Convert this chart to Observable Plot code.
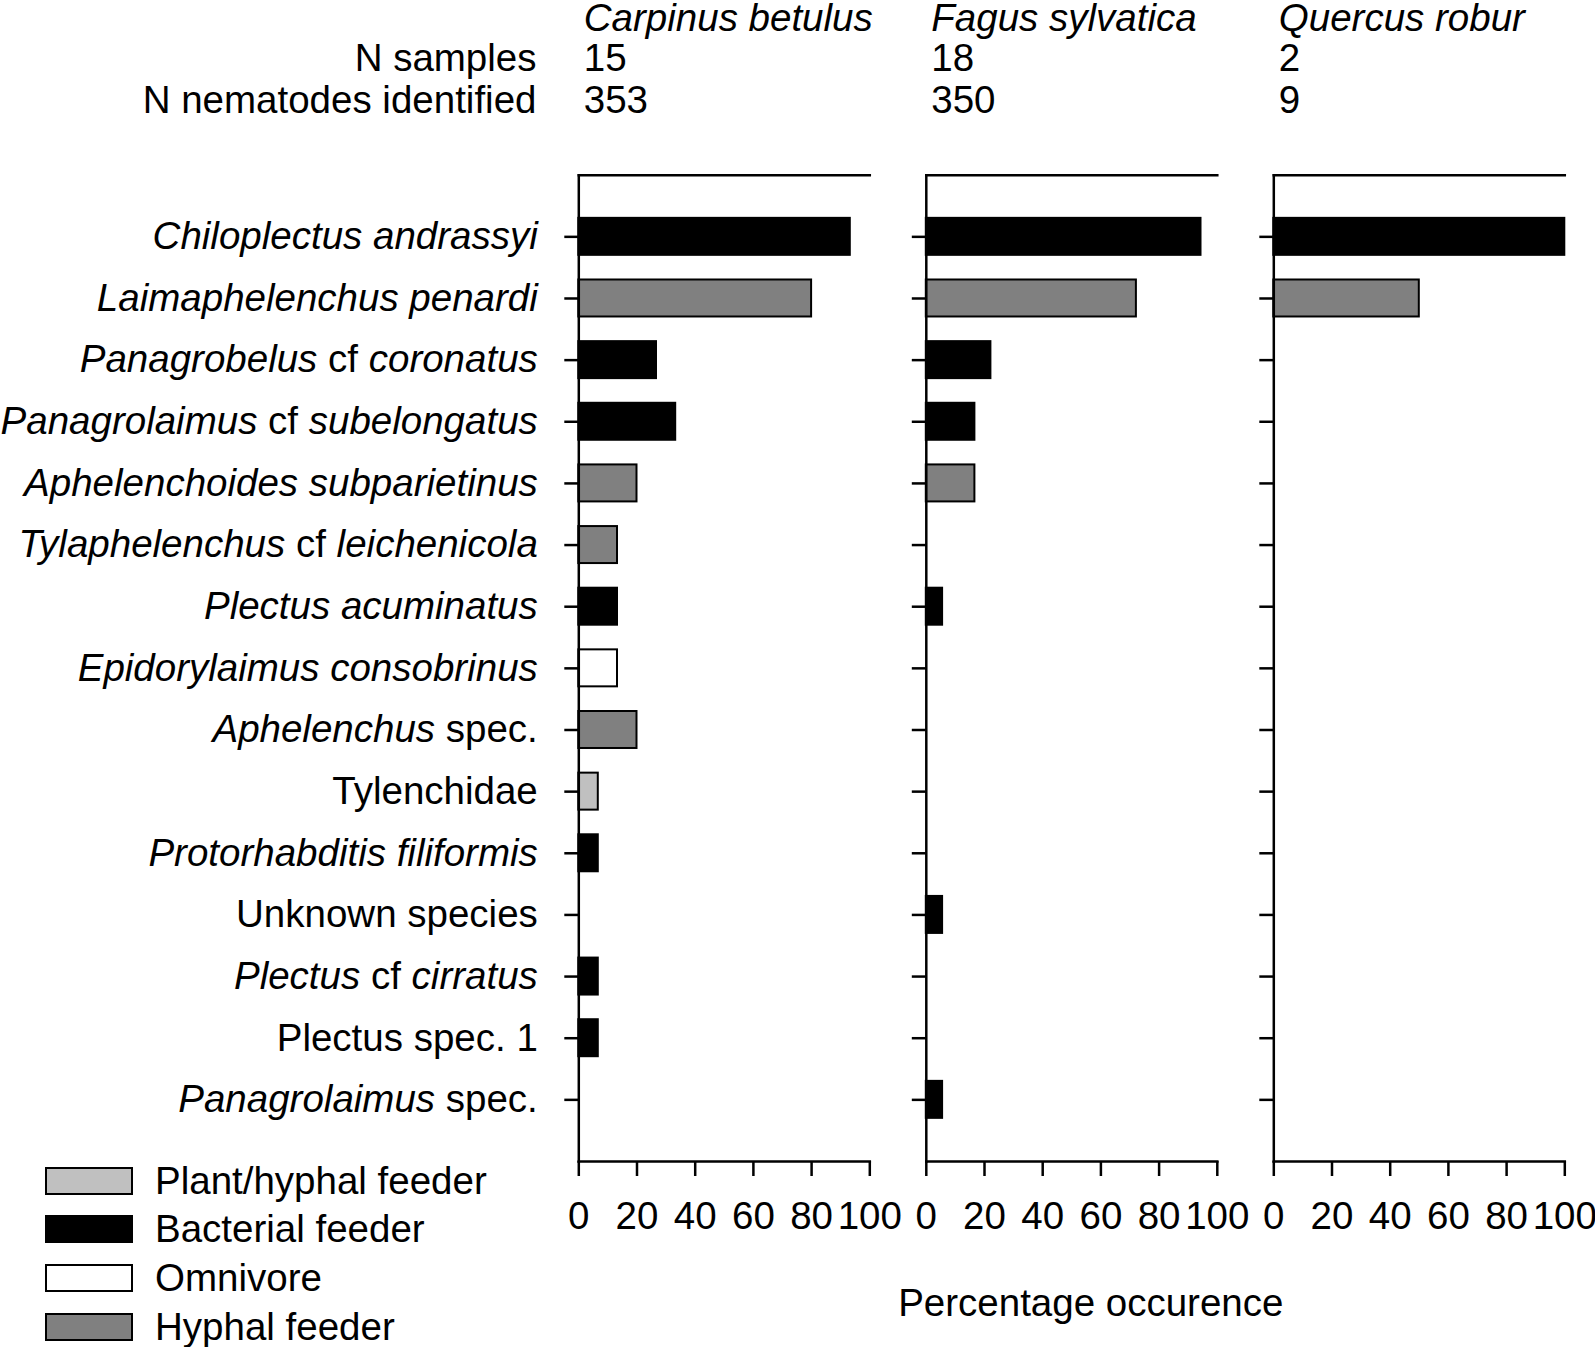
<!DOCTYPE html>
<html>
<head>
<meta charset="utf-8">
<script src="https://cdn.jsdelivr.net/npm/d3@7"></script>
<script src="https://cdn.jsdelivr.net/npm/@observablehq/plot@0.6"></script>
<style>
  html, body { margin: 0; padding: 0; background: #fff; }
  #root { position: relative; width: 1595px; height: 1347px; font-family: "Liberation Sans", Arial, sans-serif; color: #000; }
  #chart { position: absolute; left: 0; top: 0; }
  .legend { position: absolute; left: 45px; top: 1166.5px; font-size: 38.5px; }
  .lrow { display: flex; align-items: center; height: 28px; margin-bottom: 20.9px; }
  .sw { display: inline-block; box-sizing: border-box; width: 88px; height: 28px; border: 2px solid #000; }
  .lt { margin-left: 22px; line-height: 38px; white-space: nowrap; }
</style>
</head>
<body>
<div id="root"><div id="chart"></div></div>
<script>
// ---- data ----
const trees = ["Carpinus betulus", "Fagus sylvatica", "Quercus robur"];
const nSamples = [15, 18, 2];
const nNematodes = [353, 350, 9];
const rowLabels = ["N samples", "N nematodes identified"];

// species label segments: "i" = italic, "r" = roman
const speciesParts = [
  [["Chiloplectus andrassyi", "i"]],
  [["Laimaphelenchus penardi", "i"]],
  [["Panagrobelus", "i"], [" cf ", "r"], ["coronatus", "i"]],
  [["Panagrolaimus", "i"], [" cf ", "r"], ["subelongatus", "i"]],
  [["Aphelenchoides subparietinus", "i"]],
  [["Tylaphelenchus", "i"], [" cf ", "r"], ["leichenicola", "i"]],
  [["Plectus acuminatus", "i"]],
  [["Epidorylaimus consobrinus", "i"]],
  [["Aphelenchus", "i"], [" spec.", "r"]],
  [["Tylenchidae", "r"]],
  [["Protorhabditis filiformis", "i"]],
  [["Unknown species", "r"]],
  [["Plectus", "i"], [" cf ", "r"], ["cirratus", "i"]],
  [["Plectus spec. 1", "r"]],
  [["Panagrolaimus", "i"], [" spec.", "r"]]
];
const species = speciesParts.map(p => p.map(s => s[0]).join(""));

const guilds = ["Plant/hyphal feeder", "Bacterial feeder", "Omnivore", "Hyphal feeder"];
const guildFill = ["#c0c0c0", "#000000", "#ffffff", "#808080"];

const speciesGuild = [
  "Bacterial feeder", "Hyphal feeder", "Bacterial feeder", "Bacterial feeder",
  "Hyphal feeder", "Hyphal feeder", "Bacterial feeder", "Omnivore",
  "Hyphal feeder", "Plant/hyphal feeder", "Bacterial feeder", "Bacterial feeder",
  "Bacterial feeder", "Bacterial feeder", "Bacterial feeder"
];

const carpinusPct = [93.3, 80.0, 26.7, 33.3, 20.0, 13.3, 13.3, 13.3, 20.0, 6.7, 6.7, 0, 6.7, 6.7, 0];
const fagusPct    = [94.4, 72.2, 22.2, 16.7, 16.7, 0, 5.6, 0, 0, 0, 0, 5.6, 0, 0, 5.6];
const quercusPct  = [100, 50, 0, 0, 0, 0, 0, 0, 0, 0, 0, 0, 0, 0, 0];

const xTicks = [0, 20, 40, 60, 80, 100];
const xTitle = "Percentage occurence";

// ---- tables built from the arrays ----
const data = [];
[carpinusPct, fagusPct, quercusPct].forEach((vals, t) => {
  vals.forEach((v, i) => {
    if (v > 0) data.push({tree: trees[t], species: species[i], guild: speciesGuild[i], pct: v});
  });
});
const header = trees.map((t, i) => ({tree: t, name: t, samples: String(nSamples[i]), nematodes: String(nNematodes[i])}));

const FS = 38.5;
const chart = Plot.plot({
  width: 1595,
  height: 1347,
  marginLeft: 578.3,
  marginRight: 30.7,
  marginTop: 174.7,
  marginBottom: 186,
  style: {fontFamily: '"Liberation Sans", Arial, sans-serif', fontSize: FS + "px", color: "#000", background: "#fff", overflow: "visible"},
  fx: {domain: trees, paddingInner: 0.1626, paddingOuter: 0, round: false, axis: null, label: null},
  x: {domain: [0, 100], label: null},
  y: {domain: species, paddingInner: 0.4, paddingOuter: 0.7, round: false, label: null},
  color: {domain: guilds, range: guildFill},
  marks: [
    Plot.barX(data, {fx: "tree", y: "species", x: "pct", fill: "guild", stroke: "#000", strokeWidth: 2}),
    Plot.frame({anchor: "top", strokeWidth: 2.5}),
    Plot.frame({anchor: "bottom", strokeWidth: 2.5}),
    Plot.frame({anchor: "left", strokeWidth: 2.5}),
    Plot.axisX({ticks: xTicks, tickSize: 15, tickPadding: 25, strokeWidth: 2.5, label: null}),
    Plot.axisY({facetAnchor: null, tickSize: 14, strokeWidth: 2.5, fill: "none", label: null}),
    Plot.axisY({tickSize: 0, tickPadding: 41, label: null}),
    Plot.text(header, {fx: "tree", text: "name", frameAnchor: "top-left", textAnchor: "start", lineAnchor: "bottom", dx: 5, dy: -144.2, fontStyle: "italic"}),
    Plot.text(header, {fx: "tree", text: "samples", frameAnchor: "top-left", textAnchor: "start", lineAnchor: "bottom", dx: 5, dy: -104.7}),
    Plot.text(header, {fx: "tree", text: "nematodes", frameAnchor: "top-left", textAnchor: "start", lineAnchor: "bottom", dx: 5, dy: -62.2}),
    Plot.text([rowLabels[0]], {fx: () => trees[0], text: d => d, frameAnchor: "top-left", textAnchor: "end", lineAnchor: "bottom", dx: -42.3, dy: -104.7}),
    Plot.text([rowLabels[1]], {fx: () => trees[0], text: d => d, frameAnchor: "top-left", textAnchor: "end", lineAnchor: "bottom", dx: -42.3, dy: -62.2}),
    Plot.text([xTitle], {fx: () => trees[1], text: d => d, frameAnchor: "bottom", textAnchor: "middle", lineAnchor: "bottom", dx: 19, dy: 154})
  ]
});

// mixed italic / roman species labels
d3.select(chart).selectAll('g[aria-label="y-axis tick label"] text').each(function() {
  const i = species.indexOf(this.textContent);
  if (i < 0) return;
  const sel = d3.select(this);
  sel.text("");
  speciesParts[i].forEach(([s, st]) => {
    sel.append("tspan").attr("font-style", st === "i" ? "italic" : "normal").text(s);
  });
});

document.getElementById("chart").appendChild(chart);

// legend
const legend = d3.select("#root").append("div").attr("class", "legend");
guilds.forEach((g, i) => {
  const row = legend.append("div").attr("class", "lrow");
  row.append("span").attr("class", "sw").style("background", guildFill[i]);
  row.append("span").attr("class", "lt").text(g);
});
</script>
</body>
</html>
